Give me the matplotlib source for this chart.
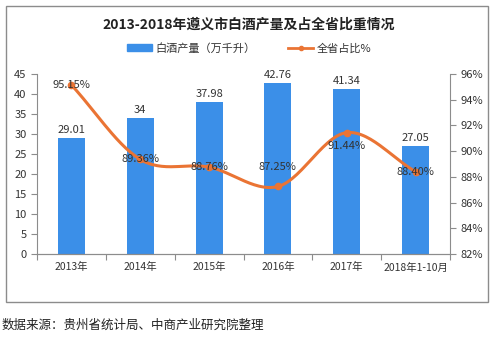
import numpy as np
import matplotlib
matplotlib.use('Agg')
import matplotlib.pyplot as plt
from matplotlib.patches import Rectangle
from matplotlib.lines import Line2D

plt.rcParams['font.family'] = ['Noto Sans CJK SC', 'DejaVu Sans']

# 遵义市白酒产量及占全省比重
years = ['2013年', '2014年', '2015年', '2016年', '2017年', '2018年1-10月']
output = [29.01, 34, 37.98, 42.76, 41.34, 27.05]      # 万千升
share = [95.15, 89.36, 88.76, 87.25, 91.44, 88.40]     # %

# label offsets in pixels for the share labels
share_dy = [0, 0, 0, 19, -13, 0]

bar_color = '#3b8fe8'
line_color = '#ea7434'
text_color = '#333333'


def catmull_rom(x, y, n=30):
    # smooth curve through the points (Excel-style smoothed line)
    x = np.asarray(x, float)
    y = np.asarray(y, float)
    px = np.concatenate([[2 * x[0] - x[1]], x, [2 * x[-1] - x[-2]]])
    py = np.concatenate([[2 * y[0] - y[1]], y, [2 * y[-1] - y[-2]]])
    xs, ys = [], []
    t = np.linspace(0, 1, n)
    for i in range(1, len(px) - 2):
        for p, out in ((px, xs), (py, ys)):
            p0, p1, p2, p3 = p[i - 1], p[i], p[i + 1], p[i + 2]
            out.extend(0.5 * ((2 * p1) + (-p0 + p2) * t
                              + (2 * p0 - 5 * p1 + 4 * p2 - p3) * t ** 2
                              + (-p0 + 3 * p1 - 3 * p2 + p3) * t ** 3))
    return np.array(xs), np.array(ys)


fig = plt.figure(figsize=(4.98, 3.38), dpi=100)

# outer frame
fig.patches.append(Rectangle((6 / 498, 1 - 302 / 338), 482 / 498, 296 / 338,
                             transform=fig.transFigure, fill=False,
                             edgecolor='#8c8c8c', linewidth=1.0))

ax = fig.add_axes([37 / 498, 1 - 254 / 338, 413 / 498, 180 / 338])
ax2 = ax.twinx()

x = np.arange(len(years))
bars = ax.bar(x, output, width=0.39, color=bar_color, zorder=2)
for xi, v in zip(x, output):
    ax.annotate(f'{v:g}', (xi, v), xytext=(0, 3), textcoords='offset pixels',
                ha='center', va='bottom', fontsize=8, color=text_color)

ax.set_xlim(-0.5, len(years) - 0.5)
ax.set_ylim(0, 45)
ax.set_yticks(np.arange(0, 46, 5))
ax.set_xticks(np.arange(-0.5, len(years), 1))
ax.set_xticklabels([])
ax.set_xticks(x, minor=True)
ax.set_xticklabels(years, minor=True)
ax.tick_params(axis='x', which='minor', length=0, labelsize=7.5,
               labelcolor=text_color, pad=6)
ax.tick_params(axis='x', which='major', length=4, color='#8c8c8c')
ax.tick_params(axis='y', length=4, color='#8c8c8c', labelsize=8,
               labelcolor=text_color)

sx, sy = catmull_rom(x, share)
ax2.plot(sx, sy, color=line_color, linewidth=2.2, zorder=3)
ax2.plot(x, share, 'o', color=line_color, markersize=4.5, zorder=4)
for xi, v, dy in zip(x, share, share_dy):
    ax2.annotate(f'{v:.2f}%', (xi, v), xytext=(0, dy), textcoords='offset pixels',
                 ha='center', va='center', fontsize=8, color=text_color, zorder=5)

ax2.set_ylim(82, 96)
ax2.set_yticks(np.arange(82, 97, 2))
ax2.set_yticklabels([f'{t}%' for t in range(82, 97, 2)])
ax2.tick_params(axis='y', length=4, color='#8c8c8c', labelsize=8,
                labelcolor=text_color)

for a in (ax, ax2):
    a.spines['top'].set_visible(False)
    for s in ('left', 'right', 'bottom'):
        a.spines[s].set_color('#8c8c8c')
ax.spines['right'].set_visible(False)
ax2.spines['left'].set_visible(False)

fig.text(0.5, 1 - 25 / 338, '2013-2018年遵义市白酒产量及占全省比重情况',
         ha='center', va='center', fontsize=10, fontweight='bold', color='#222222')

handles = [Rectangle((0, 0), 1, 1, color=bar_color),
           Line2D([], [], color=line_color, linewidth=2, marker='o', markersize=3)]
fig.legend(handles, ['白酒产量（万千升）', '全省占比%'], loc='center',
           bbox_to_anchor=(0.5, 1 - 48 / 338), ncol=2, frameon=False,
           fontsize=8, handlelength=2.2, handleheight=0.6, columnspacing=3,
           handletextpad=0.3, labelcolor=text_color)

fig.text(2 / 498, 1 - 325 / 338, '数据来源：贵州省统计局、中商产业研究院整理',
         ha='left', va='center', fontsize=9, color='#222222')

fig.savefig('out.png', dpi=100)
